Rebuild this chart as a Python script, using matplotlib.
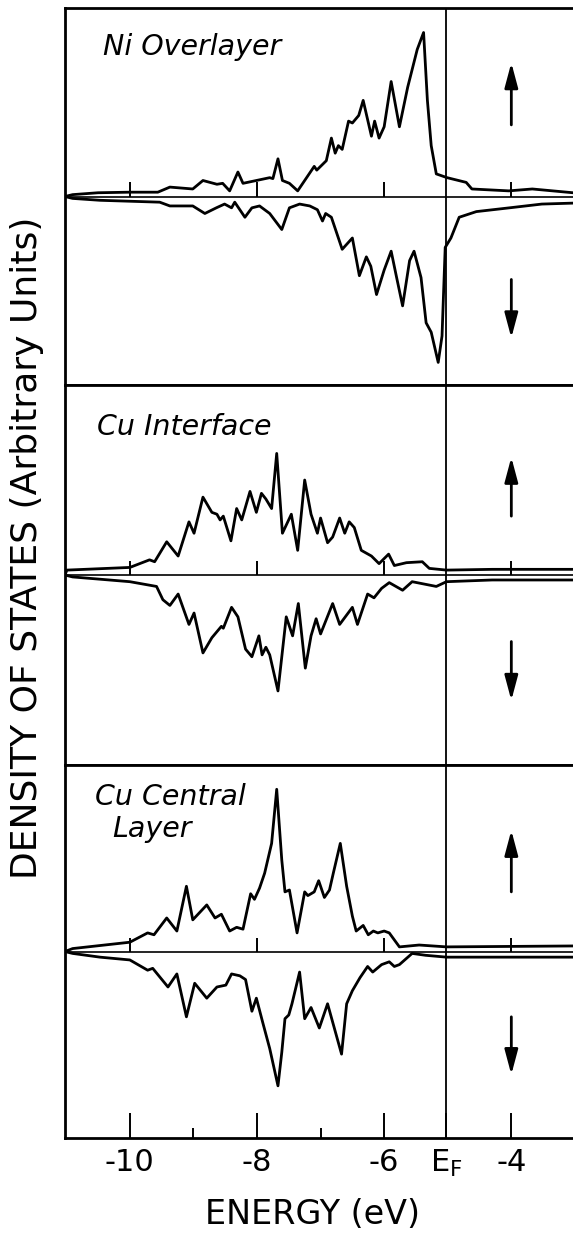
import matplotlib.pyplot as plt

plt.rcParams['font.family'] = ['DejaVu Sans']

E_F = -5.03
x_min, x_max = -11.02, -3.03

# Ni overlayer, spin up
ni_up_e = [-11.02, -10.9, -10.5, -10.0, -9.56, -9.37, -9.01, -8.85, -8.63, -8.54, -8.43, -8.30, -8.22,
           -8.01, -7.80, -7.75, -7.67, -7.60, -7.49, -7.36, -7.22, -7.10, -7.06, -6.91, -6.83, -6.77,
           -6.72, -6.66, -6.56, -6.50, -6.40, -6.33, -6.20, -6.15, -6.08, -6.00, -5.89, -5.76, -5.63,
           -5.48, -5.38, -5.32, -5.26, -5.18, -5.01, -4.71, -4.62, -4.04, -3.67, -3.03]
ni_up = [0.0, 0.01, 0.02, 0.023, 0.023, 0.05, 0.04, 0.085, 0.065, 0.07, 0.03, 0.13, 0.07,
         0.085, 0.10, 0.095, 0.20, 0.085, 0.07, 0.03, 0.10, 0.16, 0.14, 0.19, 0.31, 0.23,
         0.27, 0.25, 0.40, 0.39, 0.43, 0.51, 0.32, 0.40, 0.31, 0.37, 0.61, 0.37, 0.58,
         0.78, 0.87, 0.51, 0.27, 0.12, 0.10, 0.075, 0.04, 0.03, 0.04, 0.02]

# Ni overlayer, spin down
ni_dn_e = [-11.02, -10.9, -10.47, -9.53, -9.37, -9.01, -8.82, -8.64, -8.51, -8.40, -8.35, -8.19, -8.08,
           -7.96, -7.80, -7.61, -7.49, -7.33, -7.17, -7.05, -6.97, -6.92, -6.83, -6.66, -6.50,
           -6.39, -6.28, -6.21, -6.12, -6.00, -5.89, -5.81, -5.71, -5.60, -5.53, -5.42, -5.34,
           -5.26, -5.15, -5.09, -5.04, -4.95, -4.82, -4.55, -4.03, -3.52, -3.03]
ni_dn = [0.0, -0.01, -0.02, -0.03, -0.05, -0.05, -0.09, -0.06, -0.04, -0.06, -0.03, -0.11, -0.06,
         -0.05, -0.09, -0.175, -0.06, -0.04, -0.05, -0.07, -0.13, -0.09, -0.11, -0.28, -0.22,
         -0.42, -0.32, -0.37, -0.52, -0.39, -0.29, -0.42, -0.58, -0.34, -0.29, -0.43, -0.67,
         -0.72, -0.88, -0.74, -0.27, -0.22, -0.11, -0.08, -0.06, -0.04, -0.035]

# Cu interface, spin up
cui_up_e = [-11.02, -10.99, -10.0, -9.69, -9.61, -9.42, -9.24, -9.07, -8.99, -8.85, -8.71, -8.63, -8.58,
            -8.53, -8.41, -8.32, -8.24, -8.11, -8.01, -7.93, -7.86, -7.77, -7.69, -7.60, -7.46,
            -7.36, -7.25, -7.15, -7.05, -7.00, -6.89, -6.81, -6.70, -6.62, -6.55, -6.47, -6.36,
            -6.20, -6.08, -5.93, -5.84, -5.65, -5.40, -5.29, -5.02, -4.30, -3.03]
cui_up = [0.0, 0.026, 0.04, 0.08, 0.07, 0.175, 0.10, 0.28, 0.22, 0.41, 0.33, 0.32, 0.29,
          0.31, 0.18, 0.35, 0.29, 0.44, 0.33, 0.43, 0.40, 0.35, 0.64, 0.22, 0.32,
          0.13, 0.50, 0.32, 0.22, 0.30, 0.17, 0.20, 0.30, 0.22, 0.28, 0.25, 0.13,
          0.10, 0.06, 0.11, 0.05, 0.065, 0.07, 0.035, 0.026, 0.03, 0.03]

# Cu interface, spin down
cui_dn_e = [-11.02, -10.9, -10.0, -9.58, -9.48, -9.37, -9.24, -9.07, -8.99, -8.85, -8.71, -8.56, -8.53,
            -8.40, -8.30, -8.18, -8.08, -7.97, -7.92, -7.86, -7.80, -7.67, -7.54, -7.44, -7.35,
            -7.24, -7.15, -7.07, -7.00, -6.81, -6.70, -6.50, -6.42, -6.26, -6.16, -6.04, -5.92,
            -5.71, -5.56, -5.18, -5.02, -4.30, -3.03]
cui_dn = [0.0, -0.01, -0.035, -0.06, -0.13, -0.16, -0.10, -0.26, -0.20, -0.41, -0.33, -0.27, -0.28,
          -0.17, -0.22, -0.39, -0.43, -0.32, -0.42, -0.38, -0.42, -0.61, -0.22, -0.32, -0.15,
          -0.49, -0.32, -0.23, -0.31, -0.15, -0.26, -0.17, -0.26, -0.10, -0.12, -0.07, -0.04,
          -0.08, -0.035, -0.06, -0.035, -0.026, -0.026]

# Cu central layer, spin up
cuc_up_e = [-11.02, -10.9, -10.0, -9.72, -9.62, -9.42, -9.26, -9.11, -9.01, -8.79, -8.66, -8.56, -8.43,
            -8.32, -8.22, -8.10, -8.04, -7.96, -7.88, -7.77, -7.69, -7.61, -7.56, -7.49, -7.37,
            -7.25, -7.20, -7.10, -7.03, -6.94, -6.86, -6.80, -6.69, -6.59, -6.50, -6.44, -6.33,
            -6.25, -6.17, -6.10, -6.00, -5.92, -5.76, -5.45, -5.02, -3.03]
cuc_up = [0.0, 0.016, 0.05, 0.10, 0.09, 0.18, 0.11, 0.35, 0.17, 0.25, 0.18, 0.20, 0.11,
          0.13, 0.12, 0.31, 0.28, 0.34, 0.42, 0.58, 0.87, 0.49, 0.32, 0.33, 0.10,
          0.32, 0.30, 0.32, 0.38, 0.29, 0.33, 0.42, 0.58, 0.35, 0.19, 0.11, 0.14,
          0.09, 0.11, 0.10, 0.11, 0.10, 0.025, 0.035, 0.025, 0.03]

# Cu central layer, spin down
cuc_dn_e = [-11.02, -10.9, -10.47, -10.0, -9.72, -9.64, -9.40, -9.26, -9.11, -8.98, -8.79, -8.63, -8.49,
            -8.40, -8.27, -8.18, -8.08, -8.01, -7.91, -7.80, -7.67, -7.61, -7.56, -7.50, -7.45,
            -7.33, -7.25, -7.15, -7.02, -6.89, -6.67, -6.59, -6.50, -6.38, -6.26, -6.18, -6.04,
            -5.92, -5.84, -5.76, -5.56, -5.35, -5.02, -4.30, -3.03]
cuc_dn = [0.0, -0.01, -0.03, -0.045, -0.10, -0.09, -0.19, -0.12, -0.35, -0.17, -0.25, -0.19, -0.18,
          -0.12, -0.13, -0.15, -0.32, -0.25, -0.38, -0.52, -0.72, -0.54, -0.36, -0.34, -0.28,
          -0.11, -0.36, -0.30, -0.41, -0.28, -0.55, -0.28, -0.21, -0.14, -0.08, -0.11, -0.07,
          -0.055, -0.08, -0.07, -0.01, -0.02, -0.03, -0.03, -0.03]

panels = [
    (["Ni Overlayer"], ni_up_e, ni_up, ni_dn_e, ni_dn),
    (["Cu Interface"], cui_up_e, cui_up, cui_dn_e, cui_dn),
    (["Cu Central", "Layer"], cuc_up_e, cuc_up, cuc_dn_e, cuc_dn),
]
label_pos = [[(0.075, 0.875)], [(0.063, 0.868)], [(0.059, 0.893), (0.093, 0.807)]]
arrow_pos = [(0.38, 0.71, -0.44, -0.75), (0.31, 0.62, -0.35, -0.66), (0.32, 0.65, -0.35, -0.66)]

zero_ticks = [-10, -8, -6, -4]
major_ticks = [-10, -8, -6, E_F, -4]
major_labels = ['-10', '-8', '-6', r'E$_{\rm F}$', '-4']
minor_ticks = [-9, -7]

fig = plt.figure(figsize=(5.73, 12.33), dpi=100)
gs = fig.add_gridspec(3, 1, left=0.1134, right=1.0, top=0.9935, bottom=0.077,
                      hspace=0, height_ratios=[377, 380, 373])

for i, (names, ue, uv, de, dv) in enumerate(panels):
    ax = fig.add_subplot(gs[i])
    ax.plot(ue, uv, color='black', lw=2.0)
    ax.plot(de, dv, color='black', lw=2.0)
    ax.axhline(0, color='black', lw=1.2)
    ax.axvline(E_F, color='black', lw=1.3)
    ax.vlines(zero_ticks, 0, 0.075, color='black', lw=1.4)

    ax.set_xlim(x_min, x_max)
    ax.set_ylim(-1, 1)
    ax.spines['right'].set_visible(False)
    for s in ['left', 'top', 'bottom']:
        ax.spines[s].set_linewidth(2.0)
    ax.set_yticks([])

    for name, (tx, ty) in zip(names, label_pos[i]):
        ax.text(tx, ty, name, transform=ax.transAxes, fontsize=20.5,
                style='italic', va='baseline', ha='left')

    uy0, uy1, dy0, dy1 = arrow_pos[i]
    arrow = dict(arrowstyle='-|>,head_length=0.75,head_width=0.2',
                 color='black', lw=2.0, mutation_scale=20, shrinkA=0, shrinkB=0)
    ax.annotate('', xy=(-4, uy1), xytext=(-4, uy0), arrowprops=arrow)
    ax.annotate('', xy=(-4, dy1), xytext=(-4, dy0), arrowprops=arrow)

    if i < 2:
        ax.set_xticks([])
    else:
        ax.set_xticks(major_ticks)
        ax.set_xticklabels(major_labels, fontsize=22)
        ax.set_xticks(minor_ticks, minor=True)
        ax.tick_params(axis='x', which='major', direction='in', length=18, width=1.4, pad=7)
        ax.tick_params(axis='x', which='minor', direction='in', length=7, width=1.4)

fig.text(0.546, 0.0146, 'ENERGY (eV)', fontsize=24, ha='center', va='center')
fig.text(0.047, 0.5556, 'DENSITY OF STATES (Arbitrary Units)', fontsize=26,
         rotation=90, ha='center', va='center')

fig.savefig('out.png', dpi=100)
